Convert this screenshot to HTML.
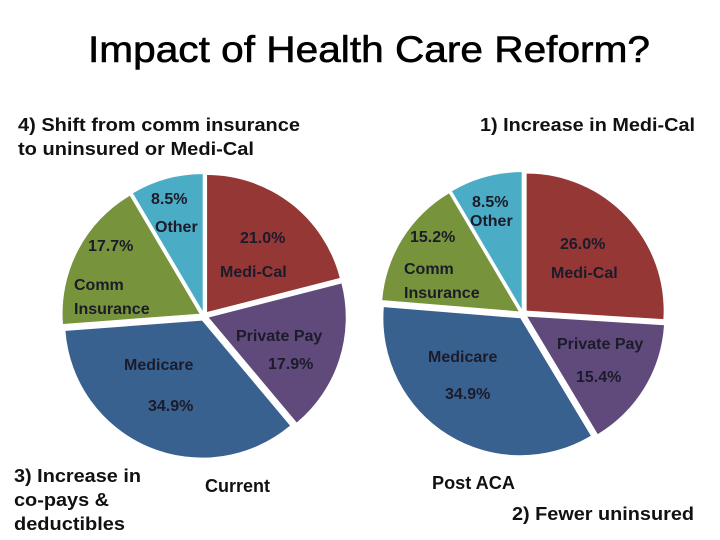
<!DOCTYPE html>
<html><head><meta charset="utf-8"><style>
body{margin:0;background:#fff;}
svg{display:block;font-family:"Liberation Sans",sans-serif;}
.lab{font-weight:bold;font-size:16px;fill:#1b1b2a;}
.cap{font-weight:bold;font-size:18px;fill:#111;}
</style></head><body>
<svg id="c" width="720" height="540" viewBox="0 0 720 540">
<text x="88" y="62" font-size="37" textLength="562" lengthAdjust="spacingAndGlyphs" fill="#000" stroke="#000" stroke-width="0.6">Impact of Health Care Reform?</text>
<text class="cap" x="18" y="131" textLength="282" lengthAdjust="spacingAndGlyphs">4) Shift from comm insurance</text>
<text class="cap" x="18" y="155" textLength="236" lengthAdjust="spacingAndGlyphs">to uninsured or Medi-Cal</text>
<text class="cap" x="480" y="131" textLength="215" lengthAdjust="spacingAndGlyphs">1) Increase in Medi-Cal</text>
<text class="cap" x="14" y="482" textLength="127" lengthAdjust="spacingAndGlyphs">3) Increase in</text>
<text class="cap" x="14" y="506" textLength="95" lengthAdjust="spacingAndGlyphs">co-pays &amp;</text>
<text class="cap" x="14" y="530" textLength="111" lengthAdjust="spacingAndGlyphs">deductibles</text>
<text class="cap" x="205" y="492" textLength="65" lengthAdjust="spacingAndGlyphs">Current</text>
<text class="cap" x="432" y="489" textLength="83" lengthAdjust="spacingAndGlyphs">Post ACA</text>
<text class="cap" x="512" y="520" textLength="182" lengthAdjust="spacingAndGlyphs">2) Fewer uninsured</text>
<g id="pies"></g>
</svg>
<script>
const categories=["Medi-Cal","Private Pay","Medicare","Comm Insurance","Other"];
const currentValues=[21.0,17.9,34.9,17.7,8.5];
const postValues=[26.0,15.4,34.9,15.2,8.5];
const colors=["#953735","#604a7b","#386190","#77933c","#4bacc6"];
const NS="http://www.w3.org/2000/svg";
const g=document.getElementById('pies');
function pie(vals,cx,cy,r,name){
  const tot=vals.reduce((a,b)=>a+b,0);
  let a0=0;
  vals.forEach((v,i)=>{
    const a1=a0+v/tot*Math.PI*2, am=(a0+a1)/2, off=5;
    const ox=cx+off*Math.sin(am), oy=cy-off*Math.cos(am);
    const x0=ox+r*Math.sin(a0), y0=oy-r*Math.cos(a0), x1=ox+r*Math.sin(a1), y1=oy-r*Math.cos(a1);
    const p=document.createElementNS(NS,'path');
    p.setAttribute('d',`M${ox},${oy}L${x0},${y0}A${r},${r} 0 ${a1-a0>Math.PI?1:0} 1 ${x1},${y1}Z`);
    p.setAttribute('fill',colors[i]);
    
    
    g.appendChild(p);
    a0=a1;
  });
}
pie(currentValues,204,316,137,'current');
pie(postValues,523,314,137,'post-aca');
function lab(t,x,y,name){
  const e=document.createElementNS(NS,'text');
  e.setAttribute('class','lab');e.setAttribute('x',x);e.setAttribute('y',y);e.textContent=t;
  
  
  document.getElementById('c').appendChild(e);
}
const f=v=>v.toFixed(1)+'%';
lab(f(currentValues[4]),151,204,'current-other-value');lab('Other',155,232,'current-other-label');
lab(f(currentValues[0]),240,243,'current-medical-value');lab('Medi-Cal',220,277,'current-medical-label');
lab(f(currentValues[3]),88,251,'current-comm-value');lab('Comm',74,290,'current-comm-label');lab('Insurance',74,314,'current-comm-label-2');
lab('Private Pay',236,341,'current-private-label');lab(f(currentValues[1]),268,369,'current-private-value');
lab('Medicare',124,370,'current-medicare-label');lab(f(currentValues[2]),148,411,'current-medicare-value');
lab(f(postValues[4]),472,207,'post-other-value');lab('Other',470,226,'post-other-label');
lab(f(postValues[0]),560,249,'post-medical-value');lab('Medi-Cal',551,278,'post-medical-label');
lab(f(postValues[3]),410,242,'post-comm-value');lab('Comm',404,274,'post-comm-label');lab('Insurance',404,298,'post-comm-label-2');
lab('Private Pay',557,349,'post-private-label');lab(f(postValues[1]),576,382,'post-private-value');
lab('Medicare',428,362,'post-medicare-label');lab(f(postValues[2]),445,399,'post-medicare-value');
</script>
</body></html>
